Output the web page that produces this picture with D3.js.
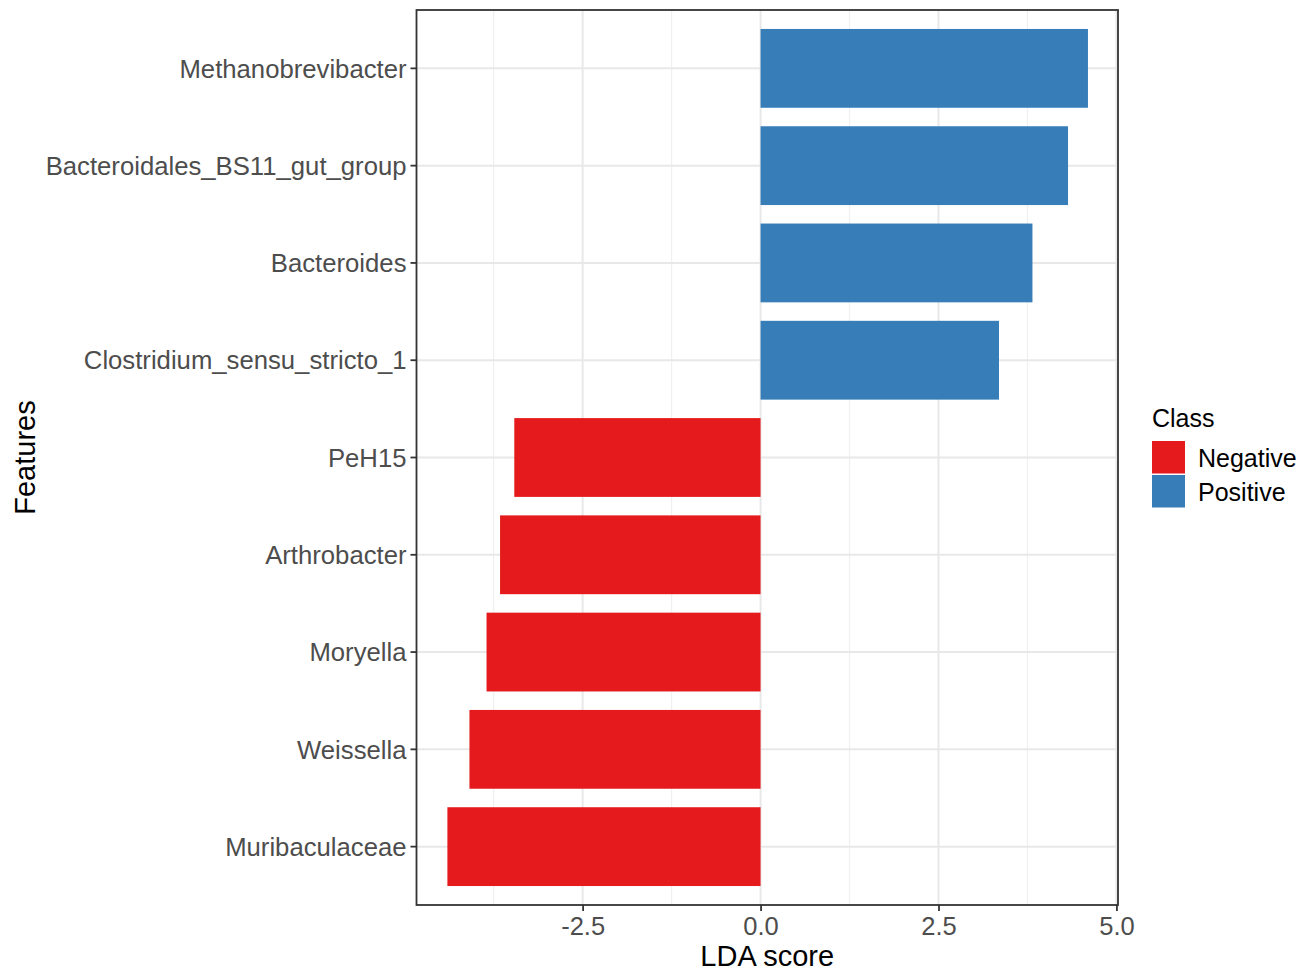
<!DOCTYPE html>
<html>
<head>
<meta charset="utf-8">
<script src="https://cdn.jsdelivr.net/npm/d3@7"></script>
<style>
  html, body { margin: 0; padding: 0; background: #fff; }
  svg { display: block; font-family: "Liberation Sans", Arial, sans-serif; }
</style>
</head>
<body>
<svg id="chart" width="1311" height="972"></svg>
<script>
// LEfSe results: feature names, LDA scores and enrichment class
const features = [
  "Methanobrevibacter",
  "Bacteroidales_BS11_gut_group",
  "Bacteroides",
  "Clostridium_sensu_stricto_1",
  "PeH15",
  "Arthrobacter",
  "Moryella",
  "Weissella",
  "Muribaculaceae"
];
const ldaScores = [4.60, 4.32, 3.82, 3.35, -3.46, -3.66, -3.85, -4.09, -4.40];
const classes = ["Positive", "Positive", "Positive", "Positive",
                 "Negative", "Negative", "Negative", "Negative", "Negative"];

const classNames = ["Negative", "Positive"];
const classColors = ["#E41A1C", "#377EB8"];
const xTicks = [-2.5, 0, 2.5, 5.0];
const xMinorTicks = [-3.75, -1.25, 1.25, 3.75];

const rows = features.map((f, i) => ({ feature: f, score: ldaScores[i], cls: classes[i] }));

const svg = d3.select("#chart");
const panel = { left: 416.5, right: 1118, top: 10, bottom: 905 };

const x = d3.scaleLinear().domain([-4.834, 5.022]).range([panel.left, panel.right]);
// discrete y scale with 0.6 units of padding at each end
const y = d3.scalePoint().domain(features)
  .range([panel.top, panel.bottom]).padding(0.6);
const step = y.step();
const barH = step * 0.81;

const color = d3.scaleOrdinal().domain(classNames).range(classColors);

// grid
const g = svg.append("g");
g.selectAll("line.minor").data(xMinorTicks).enter().append("line")
  .attr("x1", d => x(d)).attr("x2", d => x(d))
  .attr("y1", panel.top).attr("y2", panel.bottom)
  .attr("stroke", "#f0f0f0").attr("stroke-width", 1.2);
g.selectAll("line.majx").data(xTicks).enter().append("line")
  .attr("x1", d => x(d)).attr("x2", d => x(d))
  .attr("y1", panel.top).attr("y2", panel.bottom)
  .attr("stroke", "#e8e8e8").attr("stroke-width", 2);
g.selectAll("line.majy").data(features).enter().append("line")
  .attr("x1", panel.left).attr("x2", panel.right)
  .attr("y1", d => y(d)).attr("y2", d => y(d))
  .attr("stroke", "#e8e8e8").attr("stroke-width", 2);

// bars
g.selectAll("rect.bar").data(rows).enter().append("rect")
  .attr("x", d => x(Math.min(0, d.score)))
  .attr("width", d => Math.abs(x(d.score) - x(0)))
  .attr("y", d => y(d.feature) - barH / 2)
  .attr("height", barH)
  .attr("fill", d => color(d.cls));

// panel border
svg.append("rect")
  .attr("x", panel.left).attr("y", panel.top)
  .attr("width", panel.right - panel.left).attr("height", panel.bottom - panel.top)
  .attr("fill", "none").attr("stroke", "#333").attr("stroke-width", 1.8);

// x axis
const xAxis = svg.append("g").attr("transform", `translate(0,${panel.bottom})`)
  .call(d3.axisBottom(x).tickValues(xTicks).tickFormat(d => d.toFixed(1)).tickSize(6).tickPadding(6));
xAxis.select(".domain").remove();
xAxis.selectAll(".tick line").attr("stroke", "#333").attr("stroke-width", 1.8);
xAxis.selectAll(".tick text").attr("fill", "#4d4d4d").attr("font-size", 25.5)
  .attr("font-family", "Liberation Sans, Arial, sans-serif");

// y axis
const yAxis = svg.append("g").attr("transform", `translate(${panel.left},0)`);
yAxis.selectAll("g.tick").data(features).enter().append("g")
  .attr("class", "tick")
  .attr("transform", d => `translate(0,${y(d)})`)
  .each(function(d) {
    const t = d3.select(this);
    t.append("line").attr("x1", -6).attr("x2", 0).attr("stroke", "#333").attr("stroke-width", 1.8);
    t.append("text").attr("x", -10).attr("dy", "0.36em").attr("text-anchor", "end")
      .attr("fill", "#4d4d4d").attr("font-size", 25.7).text(d);
  });

// axis titles
svg.append("text").attr("x", (panel.left + panel.right) / 2).attr("y", 966)
  .attr("text-anchor", "middle").attr("font-size", 29).attr("fill", "#000").text("LDA score");
svg.append("text")
  .attr("transform", `translate(35,${(panel.top + panel.bottom) / 2}) rotate(-90)`)
  .attr("text-anchor", "middle").attr("font-size", 29).attr("fill", "#000").text("Features");

// legend
const legend = svg.append("g").attr("transform", "translate(1152,0)");
legend.append("text").attr("x", 0).attr("y", 427).attr("font-size", 25).attr("fill", "#000").text("Class");
const keyH = 34;
legend.selectAll("g.key").data(classNames).enter().append("g")
  .attr("transform", (d, i) => `translate(0,${441 + i * keyH})`)
  .each(function(d) {
    const k = d3.select(this);
    k.append("rect").attr("x", 0).attr("y", 0).attr("width", 33).attr("height", keyH - 1.5)
      .attr("fill", color(d));
    k.append("text").attr("x", 46).attr("y", keyH / 2).attr("dy", "0.36em")
      .attr("font-size", 25).attr("fill", "#000").text(d);
  });
</script>
</body>
</html>
